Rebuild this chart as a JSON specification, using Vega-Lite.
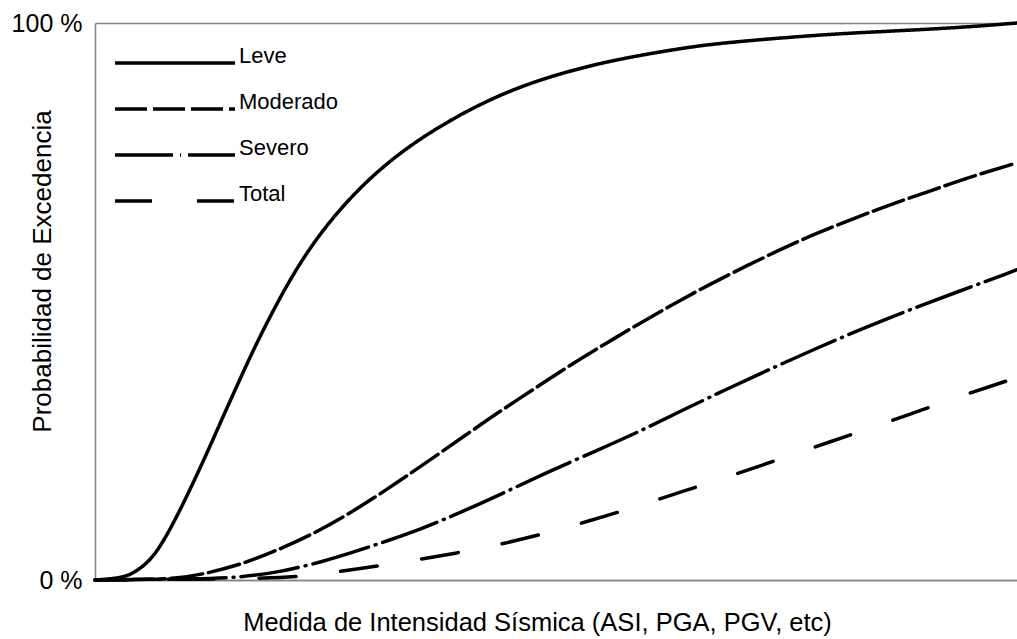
{
  "$schema": "https://vega.github.io/schema/vega-lite/v6.json",
  "width": 922,
  "height": 557,
  "autosize": {"type": "none"},
  "padding": {"left": 95, "top": 23, "right": 0, "bottom": 59},
  "background": "white",
  "config": {
    "view": {"stroke": null},
    "font": "Liberation Sans"
  },
  "data": {
    "values": [
      {"estado": "Leve", "im": 0, "p": 0},
      {"estado": "Leve", "im": 0.163, "p": 0.002},
      {"estado": "Leve", "im": 0.304, "p": 0.005},
      {"estado": "Leve", "im": 0.412, "p": 0.012},
      {"estado": "Leve", "im": 0.542, "p": 0.027},
      {"estado": "Leve", "im": 0.672, "p": 0.05},
      {"estado": "Leve", "im": 0.846, "p": 0.1},
      {"estado": "Leve", "im": 1.03, "p": 0.162},
      {"estado": "Leve", "im": 1.215, "p": 0.228},
      {"estado": "Leve", "im": 1.388, "p": 0.293},
      {"estado": "Leve", "im": 1.573, "p": 0.361},
      {"estado": "Leve", "im": 1.757, "p": 0.427},
      {"estado": "Leve", "im": 1.974, "p": 0.497},
      {"estado": "Leve", "im": 2.191, "p": 0.561},
      {"estado": "Leve", "im": 2.473, "p": 0.63},
      {"estado": "Leve", "im": 2.842, "p": 0.7},
      {"estado": "Leve", "im": 3.2, "p": 0.753},
      {"estado": "Leve", "im": 3.525, "p": 0.792},
      {"estado": "Leve", "im": 3.85, "p": 0.825},
      {"estado": "Leve", "im": 4.208, "p": 0.857},
      {"estado": "Leve", "im": 4.685, "p": 0.891},
      {"estado": "Leve", "im": 5.293, "p": 0.921},
      {"estado": "Leve", "im": 5.835, "p": 0.94},
      {"estado": "Leve", "im": 6.377, "p": 0.955},
      {"estado": "Leve", "im": 6.779, "p": 0.964},
      {"estado": "Leve", "im": 7.646, "p": 0.976},
      {"estado": "Leve", "im": 8.189, "p": 0.982},
      {"estado": "Leve", "im": 9.089, "p": 0.989},
      {"estado": "Leve", "im": 9.631, "p": 0.995},
      {"estado": "Leve", "im": 10, "p": 1.0},

      {"estado": "Moderado", "im": 0, "p": 0},
      {"estado": "Moderado", "im": 0.597, "p": 0.001},
      {"estado": "Moderado", "im": 0.868, "p": 0.003},
      {"estado": "Moderado", "im": 1.139, "p": 0.009},
      {"estado": "Moderado", "im": 1.573, "p": 0.027},
      {"estado": "Moderado", "im": 1.974, "p": 0.053},
      {"estado": "Moderado", "im": 2.408, "p": 0.086},
      {"estado": "Moderado", "im": 2.766, "p": 0.12},
      {"estado": "Moderado", "im": 3.124, "p": 0.158},
      {"estado": "Moderado", "im": 3.525, "p": 0.203},
      {"estado": "Moderado", "im": 4.035, "p": 0.262},
      {"estado": "Moderado", "im": 4.393, "p": 0.303},
      {"estado": "Moderado", "im": 4.826, "p": 0.35},
      {"estado": "Moderado", "im": 5.184, "p": 0.389},
      {"estado": "Moderado", "im": 5.553, "p": 0.426},
      {"estado": "Moderado", "im": 5.911, "p": 0.461},
      {"estado": "Moderado", "im": 6.312, "p": 0.499},
      {"estado": "Moderado", "im": 6.746, "p": 0.538},
      {"estado": "Moderado", "im": 7.462, "p": 0.596},
      {"estado": "Moderado", "im": 7.831, "p": 0.623},
      {"estado": "Moderado", "im": 8.265, "p": 0.651},
      {"estado": "Moderado", "im": 8.655, "p": 0.676},
      {"estado": "Moderado", "im": 9.089, "p": 0.7},
      {"estado": "Moderado", "im": 9.458, "p": 0.722},
      {"estado": "Moderado", "im": 10, "p": 0.749},

      {"estado": "Severo", "im": 0, "p": 0},
      {"estado": "Severo", "im": 1.139, "p": 0.002},
      {"estado": "Severo", "im": 1.573, "p": 0.005},
      {"estado": "Severo", "im": 1.974, "p": 0.013},
      {"estado": "Severo", "im": 2.473, "p": 0.033},
      {"estado": "Severo", "im": 2.842, "p": 0.052},
      {"estado": "Severo", "im": 3.2, "p": 0.072},
      {"estado": "Severo", "im": 3.525, "p": 0.091},
      {"estado": "Severo", "im": 3.85, "p": 0.113},
      {"estado": "Severo", "im": 4.393, "p": 0.153},
      {"estado": "Severo", "im": 4.859, "p": 0.19},
      {"estado": "Severo", "im": 5.477, "p": 0.235},
      {"estado": "Severo", "im": 5.911, "p": 0.267},
      {"estado": "Severo", "im": 6.312, "p": 0.3},
      {"estado": "Severo", "im": 6.779, "p": 0.337},
      {"estado": "Severo", "im": 7.104, "p": 0.362},
      {"estado": "Severo", "im": 7.831, "p": 0.417},
      {"estado": "Severo", "im": 8.623, "p": 0.472},
      {"estado": "Severo", "im": 9.382, "p": 0.519},
      {"estado": "Severo", "im": 10, "p": 0.557},

      {"estado": "Total", "im": 0, "p": 0},
      {"estado": "Total", "im": 1.681, "p": 0.002},
      {"estado": "Total", "im": 2.223, "p": 0.006},
      {"estado": "Total", "im": 2.473, "p": 0.011},
      {"estado": "Total", "im": 2.842, "p": 0.02},
      {"estado": "Total", "im": 3.308, "p": 0.031},
      {"estado": "Total", "im": 3.666, "p": 0.041},
      {"estado": "Total", "im": 4.143, "p": 0.055},
      {"estado": "Total", "im": 4.501, "p": 0.068},
      {"estado": "Total", "im": 4.967, "p": 0.087},
      {"estado": "Total", "im": 5.336, "p": 0.105},
      {"estado": "Total", "im": 5.803, "p": 0.128},
      {"estado": "Total", "im": 6.128, "p": 0.146},
      {"estado": "Total", "im": 6.638, "p": 0.173},
      {"estado": "Total", "im": 6.963, "p": 0.191},
      {"estado": "Total", "im": 7.43, "p": 0.217},
      {"estado": "Total", "im": 7.755, "p": 0.236},
      {"estado": "Total", "im": 8.221, "p": 0.262},
      {"estado": "Total", "im": 8.568, "p": 0.282},
      {"estado": "Total", "im": 9.035, "p": 0.309},
      {"estado": "Total", "im": 9.382, "p": 0.33},
      {"estado": "Total", "im": 9.848, "p": 0.355},
      {"estado": "Total", "im": 10, "p": 0.364}
    ]
  },
  "mark": {
    "type": "line",
    "interpolate": "basis",
    "strokeWidth": 3.5,
    "color": "black",
    "strokeCap": "round"
  },
  "encoding": {
    "x": {
      "field": "im",
      "type": "quantitative",
      "scale": {"domain": [0, 10], "nice": false},
      "axis": {
        "title": "Medida de Intensidad Sísmica (ASI, PGA, PGV, etc)",
        "titleFont": "Liberation Sans",
        "titleFontSize": 25.5,
        "titleFontWeight": "normal",
        "titleColor": "#000000",
        "titleX": 442,
        "titleY": 42,
        "titleAlign": "center",
        "titleBaseline": "middle",
        "labels": false,
        "ticks": false,
        "grid": false,
        "domainColor": "#858585",
        "domainWidth": 1.5
      }
    },
    "y": {
      "field": "p",
      "type": "quantitative",
      "scale": {"domain": [0, 1], "nice": false},
      "axis": {
        "title": "Probabilidad de Excedencia",
        "titleFont": "Liberation Sans",
        "titleFontSize": 26,
        "titleFontWeight": "normal",
        "titleColor": "#000000",
        "titleAngle": -90,
        "titleX": -53,
        "titleY": 248,
        "titleAlign": "center",
        "titleBaseline": "middle",
        "values": [0, 1],
        "labelExpr": "datum.value == 1 ? '100 %' : '0 %'",
        "labelFont": "Liberation Sans",
        "labelFontSize": 25,
        "labelColor": "#000000",
        "labelPadding": 13,
        "labelBaseline": "middle",
        "labelFlush": false,
        "ticks": false,
        "grid": true,
        "gridColor": "#858585",
        "gridWidth": 1.5,
        "gridOpacity": 1,
        "domainColor": "#858585",
        "domainWidth": 1.5
      }
    },
    "strokeDash": {
      "field": "estado",
      "type": "nominal",
      "scale": {
        "domain": ["Leve", "Moderado", "Severo", "Total"],
        "range": [[1, 0], [32, 6], [58, 7, 1, 7], [37, 45]]
      },
      "legend": {
        "title": null,
        "orient": "none",
        "legendX": 68,
        "legendY": 28,
        "padding": 0,
        "symbolType": "M-6,0H6",
        "symbolSize": 400,
        "symbolStrokeWidth": 3.5,
        "symbolStrokeColor": "black",
        "labelFont": "Liberation Sans",
        "labelFontSize": 22,
        "labelColor": "#000000",
        "labelBaseline": "alphabetic",
        "labelOffset": 52,
        "rowPadding": 21
      }
    }
  }
}
